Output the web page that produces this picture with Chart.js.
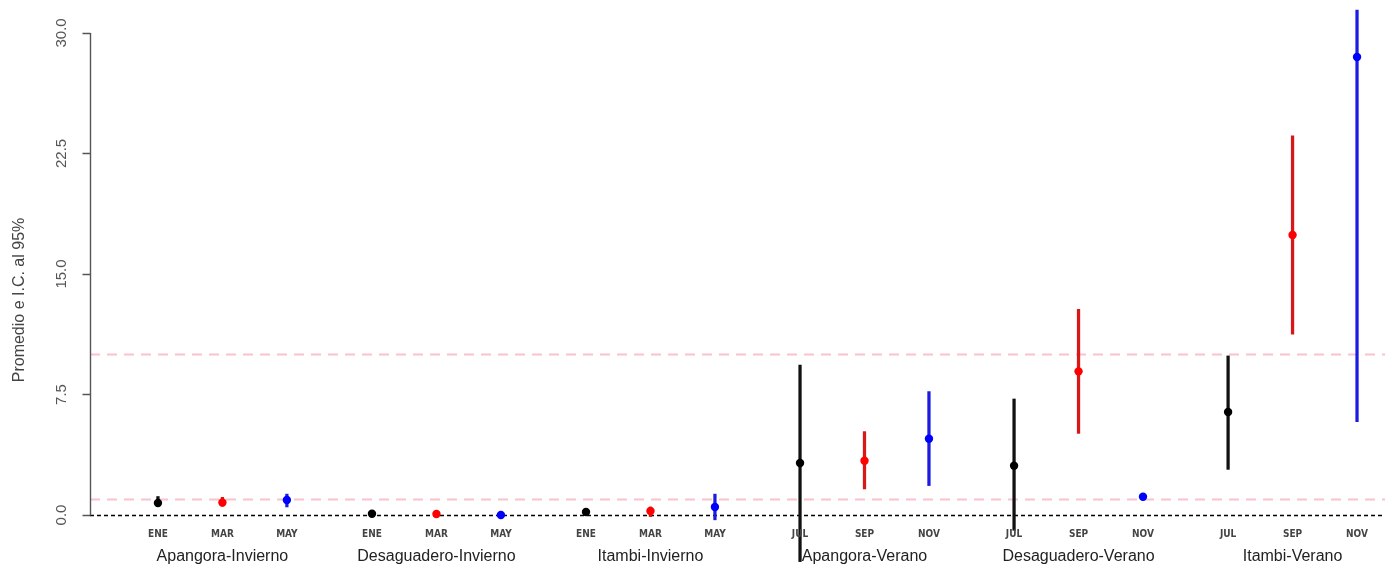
<!DOCTYPE html>
<html>
<head>
<meta charset="utf-8">
<script src="https://cdn.jsdelivr.net/npm/chart.js@4.4.1/dist/chart.umd.min.js"></script>
<style>
  html, body { margin: 0; padding: 0; background: #fff; }
  #wrap { width: 1394px; height: 571px; }
</style>
</head>
<body>
<div id="wrap"><canvas id="cIC" width="1394" height="571"></canvas></div>
<script>
/* ── Data ── */
const groups = ['Apangora-Invierno', 'Desaguadero-Invierno', 'Itambi-Invierno',
                'Apangora-Verano', 'Desaguadero-Verano', 'Itambi-Verano'];
const months = [['ENE', 'MAR', 'MAY'], ['ENE', 'MAR', 'MAY'], ['ENE', 'MAR', 'MAY'],
                ['JUL', 'SEP', 'NOV'], ['JUL', 'SEP', 'NOV'], ['JUL', 'SEP', 'NOV']];
const means = [[0.75, 0.78, 0.93], [0.08, 0.06, 0.0],  [0.19, 0.25, 0.5],
               [3.24, 3.38, 4.75], [3.07, 8.94, 1.14], [6.41, 17.43, 28.5]];
const lower = [[0.62, 0.55, 0.5],  [0.03, 0.02, -0.05], [0.12, -0.1, -0.3],
               [-2.9, 1.62, 1.83], [-0.95, 5.08, 1.02], [2.84, 11.26, 5.81]];
const upper = [[1.15, 1.1, 1.3],   [0.13, 0.1, 0.05],  [0.27, 0.5, 1.3],
               [9.33, 5.19, 7.68], [7.22, 12.8, 1.25], [9.9, 23.59, 31.43]];
const refLines = [1, 10];
const yTicks = [0, 7.5, 15, 22.5, 30];
const yTitle = 'Promedio e I.C. al 95%';

/* ── Style ── */
const pointColors = ['#000000', '#ff0000', '#0000ff'];
const barColors   = ['#111111', '#d81818', '#1c1ce0'];
const GROUP_STEP  = 3.32;               // x distance between groups (within-group step = 1)
const pos = (g, k) => g * GROUP_STEP + k;

const meanPts = [], ciBars = [], ptCol = [], barCol = [];
groups.forEach((_, g) => {
  for (let k = 0; k < 3; k++) {
    meanPts.push({ x: pos(g, k), y: means[g][k] });
    ciBars.push({ x: pos(g, k), y: [lower[g][k], upper[g][k]] });
    ptCol.push(pointColors[k]);
    barCol.push(barColors[k]);
  }
});

/* ── R-like axes, reference lines and labels ── */
const rPlot = {
  id: 'rPlot',
  beforeDatasetsDraw(chart) {
    const { ctx, chartArea: a, scales: { y } } = chart;
    ctx.save();
    ctx.lineWidth = 2;
    ctx.strokeStyle = '#f7c3cc';
    ctx.setLineDash([10, 7]);
    refLines.forEach(v => {
      const py = Math.round(y.getPixelForValue(v)) + 0.5;
      ctx.beginPath(); ctx.moveTo(a.left, py); ctx.lineTo(a.right, py); ctx.stroke();
    });
    ctx.lineWidth = 1.3;
    ctx.strokeStyle = '#000';
    ctx.setLineDash([4, 3]);
    const p0 = Math.round(y.getPixelForValue(0)) + 0.5;
    ctx.beginPath(); ctx.moveTo(a.left, p0); ctx.lineTo(a.right, p0); ctx.stroke();
    ctx.restore();
  },
  afterDatasetsDraw(chart) {
    const { ctx, chartArea: a, scales: { x, y } } = chart;
    ctx.save();
    // y axis line + ticks
    ctx.strokeStyle = '#555';
    ctx.lineWidth = 1.4;
    const ax = a.left + 0.5;
    ctx.beginPath();
    ctx.moveTo(ax, y.getPixelForValue(yTicks[0]));
    ctx.lineTo(ax, y.getPixelForValue(yTicks[yTicks.length - 1]));
    yTicks.forEach(v => {
      const py = Math.round(y.getPixelForValue(v)) + 0.5;
      ctx.moveTo(ax - 8, py); ctx.lineTo(ax, py);
    });
    ctx.stroke();
    // rotated tick labels
    ctx.fillStyle = '#555';
    ctx.font = '15px "Liberation Sans", Arial, sans-serif';
    ctx.textAlign = 'center';
    ctx.textBaseline = 'middle';
    yTicks.forEach(v => {
      ctx.save();
      ctx.translate(62, y.getPixelForValue(v));
      ctx.rotate(-Math.PI / 2);
      ctx.fillText(v.toFixed(1), 0, 0);
      ctx.restore();
    });
    // y title
    ctx.save();
    ctx.fillStyle = '#444';
    ctx.font = '16px "Liberation Sans", Arial, sans-serif';
    ctx.translate(20, 300);
    ctx.rotate(-Math.PI / 2);
    ctx.fillText(yTitle, 0, 0);
    ctx.restore();
    // month + group labels
    const p0 = y.getPixelForValue(0);
    groups.forEach((name, g) => {
      ctx.fillStyle = '#444';
      ctx.font = 'bold 10px "DejaVu Sans Condensed", "DejaVu Sans", sans-serif';
      months[g].forEach((m, k) => ctx.fillText(m, x.getPixelForValue(pos(g, k)), p0 + 19));
      ctx.fillStyle = '#222';
      ctx.font = '16px "Liberation Sans", Arial, sans-serif';
      ctx.fillText(name, x.getPixelForValue(pos(g, 1)), p0 + 42);
    });
    ctx.restore();
  }
};

new Chart(document.getElementById('cIC'), {
  type: 'bar',
  data: {
    datasets: [
      {
        type: 'scatter',
        data: meanPts,
        pointBackgroundColor: ptCol,
        pointBorderColor: ptCol,
        pointRadius: 4.2,
        pointBorderWidth: 0,
        order: 0
      },
      {
        type: 'bar',
        data: ciBars,
        backgroundColor: barCol,
        barThickness: 2.6,
        grouped: false,
        borderSkipped: false,
        order: 1
      }
    ]
  },
  options: {
    responsive: false,
    animation: false,
    layout: { autoPadding: false, padding: { left: 90, right: 9, top: 0, bottom: 0 } },
    plugins: { legend: { display: false }, tooltip: { enabled: false } },
    scales: {
      x: { type: 'linear', display: false, offset: false, min: -1.054, max: 19.034 },
      y: { display: false, min: -3.485, max: 32.05 }
    }
  },
  plugins: [rPlot]
});
</script>
</body>
</html>
